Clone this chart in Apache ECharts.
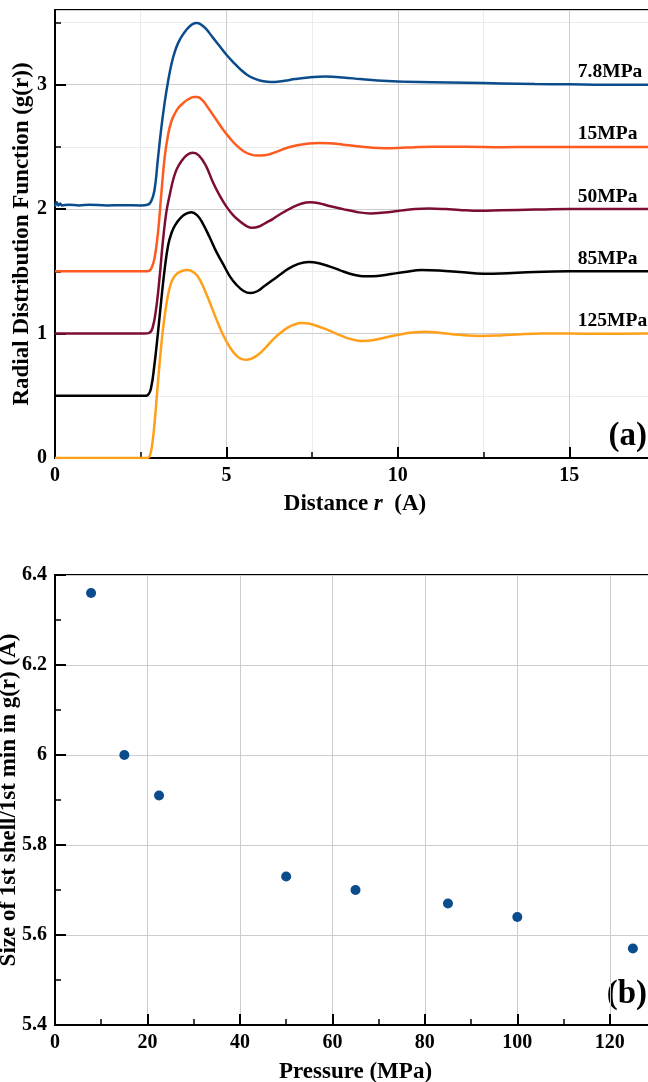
<!DOCTYPE html>
<html><head><meta charset="utf-8">
<script src="https://cdn.jsdelivr.net/npm/echarts@6/dist/echarts.min.js"></script>
<style>html,body{margin:0;padding:0;background:#fff}#c{width:648px;height:1082px}</style>
</head><body><div id="c"></div>
<script>
// ---------- DATA ----------
const curveNames = ['7.8MPa', '15MPa', '50MPa', '85MPa', '125MPa'];

// g(r) curves, shown with vertical offsets as in the figure: [r (A), g(r)+offset]
const g78 = [[0,2.02],[0.05,2.055],[0.1,2.03],[0.15,2.045],[0.2,2.03],[0.4,2.035],[0.7,2.03],[1.0,2.035],[1.5,2.03],[2.0,2.032],[2.5,2.03],[2.7,2.035],
  [2.8,2.06],[2.9,2.15],[3.0,2.4],[3.1,2.65],[3.2,2.86],[3.3,3.03],[3.4,3.17],[3.5,3.27],[3.6,3.34],[3.7,3.39],[3.8,3.43],[3.9,3.46],[4.0,3.485],
  [4.13,3.495],[4.25,3.485],[4.4,3.45],[4.6,3.38],[4.8,3.31],[5.0,3.24],[5.2,3.18],[5.4,3.125],[5.6,3.08],[5.8,3.05],[6.0,3.032],[6.2,3.024],
  [6.4,3.022],[6.7,3.032],[7.0,3.045],[7.4,3.058],[7.9,3.065],[8.4,3.058],[8.9,3.045],[9.4,3.033],[10,3.025],[11,3.02],[12,3.015],[13,3.01],
  [14,3.005],[15,3.003],[16,3.0],[17.5,3.0]];
const g15 = [[0,1.5],[1,1.5],[2,1.5],[2.6,1.5],[2.75,1.505],[2.82,1.53],[2.9,1.6],[3.0,1.8],[3.1,2.12],[3.2,2.42],[3.3,2.6],[3.4,2.71],[3.5,2.77],
  [3.6,2.815],[3.75,2.855],[3.9,2.885],[4.05,2.9],[4.15,2.9],[4.3,2.875],[4.5,2.8],[4.7,2.72],[4.9,2.64],[5.1,2.57],[5.3,2.51],[5.5,2.465],
  [5.7,2.44],[5.9,2.43],[6.1,2.432],[6.3,2.445],[6.55,2.47],[6.8,2.495],[7.1,2.515],[7.4,2.528],[7.7,2.532],[8.0,2.53],[8.4,2.518],[8.8,2.505],
  [9.2,2.495],[9.6,2.49],[10,2.492],[10.5,2.498],[11,2.502],[12,2.502],[13,2.498],[14,2.5],[15,2.5],[17.5,2.5]];
const g50 = [[0,1],[1,1],[2,1],[2.6,1],[2.75,1.005],[2.85,1.05],[2.95,1.2],[3.05,1.45],[3.15,1.75],[3.25,1.98],[3.35,2.12],[3.45,2.24],[3.55,2.32],
  [3.7,2.39],[3.85,2.435],[4.02,2.452],[4.2,2.43],[4.4,2.35],[4.6,2.22],[4.8,2.11],[5.0,2.02],[5.2,1.95],[5.4,1.9],[5.6,1.862],[5.75,1.85],
  [5.95,1.86],[6.15,1.89],[6.35,1.92],[6.6,1.965],[6.9,2.01],[7.2,2.045],[7.45,2.055],[7.7,2.047],[8.0,2.025],[8.4,2.0],[8.8,1.977],[9.2,1.965],
  [9.6,1.972],[10,1.985],[10.5,2.0],[10.9,2.005],[11.4,2.0],[11.8,1.993],[12.4,1.986],[13,1.99],[14,1.996],[15,2.0],[17.5,2.0]];
const g85 = [[0,0.5],[1,0.5],[2,0.5],[2.6,0.5],[2.7,0.505],[2.8,0.56],[2.9,0.75],[3.0,1.0],[3.1,1.27],[3.2,1.52],[3.3,1.71],[3.4,1.81],[3.5,1.87],
  [3.65,1.925],[3.8,1.96],[3.98,1.975],[4.15,1.95],[4.3,1.89],[4.5,1.78],[4.7,1.66],[4.9,1.56],[5.1,1.46],[5.3,1.39],[5.5,1.342],[5.7,1.325],
  [5.9,1.34],[6.1,1.38],[6.3,1.42],[6.55,1.47],[6.8,1.52],[7.1,1.56],[7.4,1.575],[7.7,1.565],[8.0,1.54],[8.3,1.51],[8.6,1.48],[8.9,1.463],
  [9.1,1.46],[9.4,1.463],[9.8,1.478],[10.2,1.495],[10.7,1.51],[11.2,1.507],[11.8,1.495],[12.5,1.48],[13,1.482],[14,1.495],[15,1.5],[17.5,1.5]];
const g125 = [[0,0],[1,0],[2,0],[2.5,0],[2.7,0],[2.78,0.03],[2.85,0.14],[2.92,0.33],[3.0,0.6],[3.08,0.85],[3.16,1.06],[3.24,1.22],[3.32,1.34],
  [3.42,1.43],[3.55,1.48],[3.7,1.503],[3.85,1.51],[4.0,1.5],[4.15,1.465],[4.3,1.39],[4.5,1.26],[4.7,1.12],[4.9,0.99],[5.1,0.89],[5.3,0.82],
  [5.45,0.795],[5.6,0.79],[5.75,0.8],[5.95,0.835],[6.15,0.89],[6.35,0.95],[6.55,1.0],[6.8,1.05],[7.0,1.075],[7.2,1.085],[7.4,1.08],[7.6,1.065],
  [7.9,1.035],[8.2,1.0],[8.5,0.965],[8.8,0.945],[9.0,0.94],[9.3,0.948],[9.7,0.972],[10.1,0.995],[10.5,1.01],[10.8,1.015],[11.2,1.007],
  [11.8,0.99],[12.4,0.98],[13,0.985],[13.6,0.995],[14.2,1.0],[15,1.0],[16,0.998],[17.5,1.0]];

// panel (b): pressure (MPa) vs size of 1st shell (A)
const pressure  = [7.8, 15, 22.5, 50, 65, 85, 100, 125];
const shellSize = [6.36, 6.00, 5.91, 5.73, 5.70, 5.67, 5.64, 5.57];

// ---------- STYLE ----------
const FONT = 'Liberation Serif';
const curves = [g78, g15, g50, g85, g125];
const colors = ['#0b4c8c', '#ff5a1f', '#7c0e32', '#000000', '#ff9f1a'];
const dotColor = '#0b4c8c';
const labelR = 15.25, labelLift = 0.1;

const lblStyle = {fontFamily: FONT, fontWeight: 'bold', fontSize: 20, color: '#000'};
const nameStyle = {fontFamily: FONT, fontWeight: 'bold', fontSize: 23, color: '#000',
  rich: {i: {fontFamily: FONT, fontWeight: 'bold', fontStyle: 'italic', fontSize: 23, color: '#000'}}};
const axLine = {show: true, lineStyle: {color: '#000', width: 2}};
const majTick = {show: true, inside: true, length: 11, lineStyle: {color: '#000', width: 2}};
const minTick = {show: true, inside: true, length: 6, lineStyle: {color: '#000', width: 1.5}};
const majSplit = {show: true, lineStyle: {color: '#cdcdcd', width: 1}};
const minSplit = {show: true, lineStyle: {color: '#ececec', width: 1}};

function majorAxis(extra) {
  return Object.assign({type: 'value', axisLine: axLine, axisTick: majTick,
    axisLabel: Object.assign({margin: 8, showMaxLabel: false}, lblStyle),
    splitLine: majSplit, nameLocation: 'middle', nameMoveOverlap: false, nameTextStyle: nameStyle, z: 2}, extra);
}
function minorAxis(extra) {
  return Object.assign({type: 'value', axisLine: {show: false}, axisTick: minTick,
    axisLabel: {show: false}, splitLine: minSplit, z: 1}, extra);
}

const option = {
  animation: false,
  backgroundColor: '#fff',
  grid: [
    {left: 55, top: 10, right: -7, bottom: 624, show: true, borderColor: '#000', borderWidth: 2, containLabel: false, outerBoundsMode: 'none'},
    {left: 55, top: 575, right: -8, bottom: 57, show: true, borderColor: '#000', borderWidth: 2, containLabel: false, outerBoundsMode: 'none'}
  ],
  xAxis: [
    majorAxis({gridIndex: 0, position: 'bottom', min: 0, max: 17.5, interval: 5, name: 'Distance {i|r}  (A)', nameGap: 35}),
    minorAxis({gridIndex: 0, position: 'bottom', min: 0, max: 17.5, interval: 2.5}),
    majorAxis({gridIndex: 1, position: 'bottom', min: 0, max: 130, interval: 20, name: 'Pressure (MPa)', nameGap: 36}),
    minorAxis({gridIndex: 1, position: 'bottom', min: 0, max: 130, interval: 10, splitLine: {show: false}})
  ],
  yAxis: [
    majorAxis({gridIndex: 0, position: 'left', min: 0, max: 3.6, interval: 1, name: 'Radial Distribution Function (g(r))', nameGap: 21}),
    minorAxis({gridIndex: 0, position: 'left', min: 0, max: 3.6, interval: 0.5}),
    majorAxis({gridIndex: 1, position: 'left', min: 5.4, max: 6.4, interval: 0.2, name: 'Size of 1st shell/1st min in g(r) (A)', nameGap: 34,
      minorTick: {show: true, splitNumber: 2, length: 6, lineStyle: {color: '#000', width: 1.5}},
      axisLabel: Object.assign({margin: 8}, lblStyle)})
  ],
  series: curves.map((d, i) => ({
    type: 'line', name: curveNames[i], xAxisIndex: 0, yAxisIndex: 0, data: d,
    showSymbol: false, smooth: 0.4, lineStyle: {color: colors[i], width: 2.5}, itemStyle: {color: colors[i]}, z: 3, silent: true
  })).concat([
    {
      type: 'scatter', xAxisIndex: 0, yAxisIndex: 0, symbolSize: 0, silent: true, z: 4,
      itemStyle: {opacity: 1},
      data: curveNames.map((n, i) => ({name: n, value: [labelR, curves[i][curves[i].length - 1][1] + labelLift]})),
      label: Object.assign({show: true, position: 'right', distance: 0, formatter: '{b}', opacity: 1}, lblStyle, {fontSize: 19.5})
    },
    {
      type: 'scatter', xAxisIndex: 2, yAxisIndex: 2, symbolSize: 10, z: 4,
      data: pressure.map((p, i) => [p, shellSize[i]]),
      itemStyle: {color: dotColor, opacity: 1}
    }
  ]),
  graphic: [
    {type: 'text', right: 1, top: 420, style: {text: '(a)', font: 'bold 33px "Liberation Serif"', fill: '#000'}},
    {type: 'text', right: 1, top: 978, style: {text: '(b)', font: 'bold 33px "Liberation Serif"', fill: '#000'}}
  ]
};

const chart = echarts.init(document.getElementById('c'), null, {renderer: 'canvas'});
chart.setOption(option);
</script>
</body></html>
